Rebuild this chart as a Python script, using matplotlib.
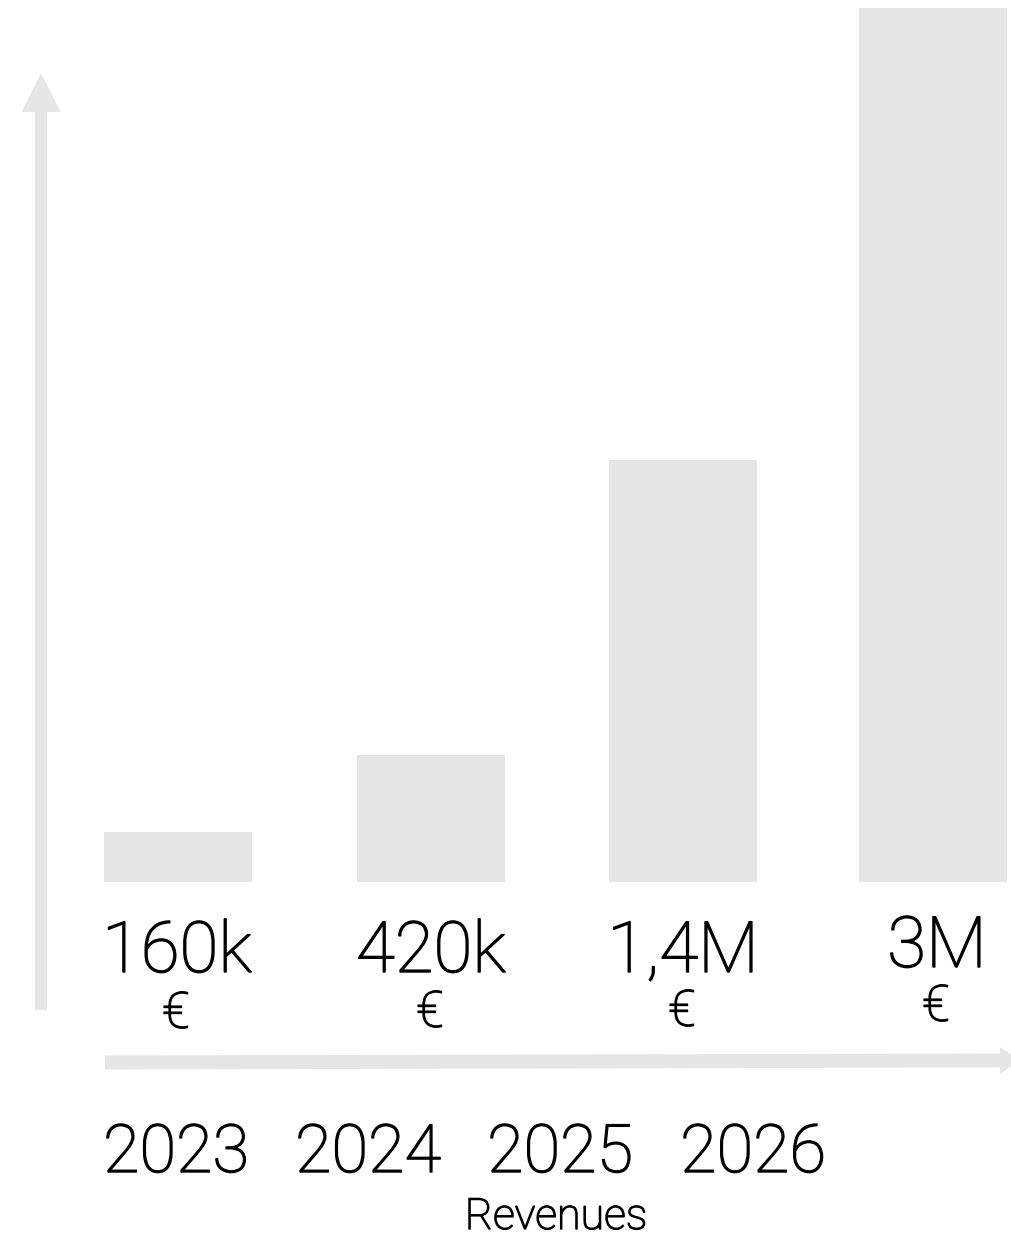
import matplotlib
matplotlib.use("Agg")
import matplotlib.pyplot as plt
import matplotlib.patheffects as pe
from matplotlib.patches import FancyArrow

# data
years = ["2023", "2024", "2025", "2026"]
value_labels = ["160k", "420k", "1,4M", "3M"]
bar_heights = [0.17, 0.435, 1.45, 3.0]   # revenue in M EUR

bar_color = "#e6e6e6"
txt_font = ["Roboto", "DejaVu Sans"]
txt_wt = "light"
thick = [pe.withStroke(linewidth=1.0, foreground="black")]

W, H = 1012, 1237
fig = plt.figure(figsize=(W / 100, H / 100), dpi=100)

# overlay axes in pixel coordinates for arrows and text
ov = fig.add_axes([0, 0, 1, 1])
ov.set_xlim(0, W)
ov.set_ylim(H, 0)
ov.axis("off")

# bar axes: baseline at pixel 882, 3.0 at pixel 8
base_px, top_px = 882, 8
ax = fig.add_axes([0, (H - base_px) / H, 1, (base_px - top_px) / H])
spacing = 251.7
ax.set_xlim(-178 / spacing, (W - 178) / spacing)
ax.set_ylim(0, 3.0)
ax.axis("off")
xs = [0, 1.005, 2.005, 3]
ax.bar(xs, bar_heights, width=148 / spacing, color=bar_color, linewidth=0)

# arrows
ov.add_patch(FancyArrow(41, 1010, 0, -898, width=12, head_width=39, head_length=39,
                        length_includes_head=False, color=bar_color, lw=0))
ov.add_patch(FancyArrow(105, 1062.5, 895, -2, width=14, head_width=27, head_length=20,
                        length_includes_head=False, color=bar_color, lw=0))

# value labels
lab_x = [177, 431, 683, 937]
lab_y = [972, 972, 972, 967]
eur_y = [1014, 1013, 1012, 1007]
for i in range(len(value_labels)):
    ov.text(lab_x[i], lab_y[i], value_labels[i], ha="center", va="baseline",
            fontsize=51, family=txt_font, fontweight=txt_wt, color="black",
            path_effects=thick)
    ov.text(lab_x[i] - 1, eur_y[i], "\u20ac", ha="center", va="center",
            fontsize=36, family=txt_font, fontweight=txt_wt, color="black",
            path_effects=thick)

# year labels
year_x = [176, 368, 560, 753]
for i in range(len(years)):
    ov.text(year_x[i], 1172, years[i], ha="center", va="baseline",
            fontsize=48, family=txt_font, fontweight=txt_wt, color="black",
            path_effects=thick)

ov.text(556, 1229, "Revenues", ha="center", va="baseline",
        fontsize=31, family=txt_font, fontweight=txt_wt, color="black",
        path_effects=thick)

fig.savefig("out.png", dpi=100)
